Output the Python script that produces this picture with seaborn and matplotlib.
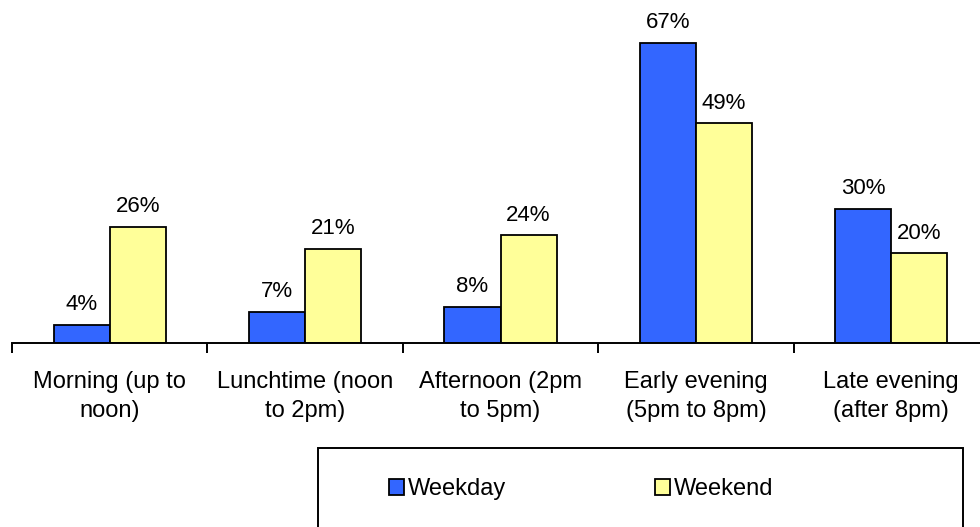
import matplotlib
matplotlib.use("Agg")
from matplotlib import pyplot as plt
from matplotlib.patches import Rectangle
import pandas as pd
import seaborn as sns

slots = [
    "Morning (up to\nnoon)",
    "Lunchtime (noon\nto 2pm)",
    "Afternoon (2pm\nto 5pm)",
    "Early evening\n(5pm to 8pm)",
    "Late evening\n(after 8pm)",
]
weekday = [4, 7, 8, 67, 30]
weekend = [26, 21, 24, 49, 20]
series = ["Weekday", "Weekend"]
colors = ["#3366FF", "#FFFF99"]

df = pd.DataFrame({
    "slot": slots * 2,
    "value": weekday + weekend,
    "day": [series[0]] * len(slots) + [series[1]] * len(slots),
})

sns.set_style("white")
plt.rcParams["font.family"] = ["Liberation Sans", "DejaVu Sans"]
plt.rcParams["text.color"] = "black"
plt.rcParams["xtick.color"] = "black"

W, H = 980, 527
fig = plt.figure(figsize=(W / 100, H / 100), dpi=100)
ax = fig.add_axes([12 / W, 1 - 343 / H, 977 / W, 343 / H])

sns.barplot(data=df, x="slot", y="value", hue="day", hue_order=series,
            palette=colors, width=0.575, errorbar=None,
            edgecolor="black", linewidth=1.3, saturation=1, ax=ax)

handles, labels = ax.get_legend_handles_labels()
if ax.get_legend() is not None:
    ax.get_legend().remove()

for cont in ax.containers:
    ax.bar_label(cont, fmt="%d%%", padding=7, fontsize=16, color="black")

ax.set_xlim(-0.5, len(slots) - 0.5)
ax.set_ylim(0, 343 / 4.48)
ax.set_xlabel("")
ax.set_ylabel("")
ax.set_yticks([])
for s in ["left", "top", "right"]:
    ax.spines[s].set_visible(False)
ax.spines["bottom"].set_color("black")
ax.spines["bottom"].set_linewidth(1.4)

ax.set_xticks(range(len(slots)))
ax.set_xticklabels(slots, linespacing=1.45)
ax.tick_params(axis="x", which="major", bottom=True, length=0, pad=20,
               labelsize=17, labelcolor="black")
ax.set_xticks([i - 0.5 for i in range(len(slots) + 1)], minor=True)
ax.tick_params(axis="x", which="minor", bottom=True, length=7, width=1.4,
               color="black", direction="out")

# legend box
fig.patches.append(Rectangle((318 / W, 1 - 560 / H), 645 / W, 112 / H,
                             transform=fig.transFigure, fill=False,
                             edgecolor="black", linewidth=1.4))
fig.legend(handles, labels, loc="center left",
           bbox_to_anchor=(377 / W, 1 - 489 / H), ncol=2, frameon=False,
           fontsize=17, handlelength=0.65, handleheight=0.65,
           handletextpad=0.15, columnspacing=6.3, borderpad=0,
           labelcolor="black")

fig.savefig("out.png", dpi=100)
